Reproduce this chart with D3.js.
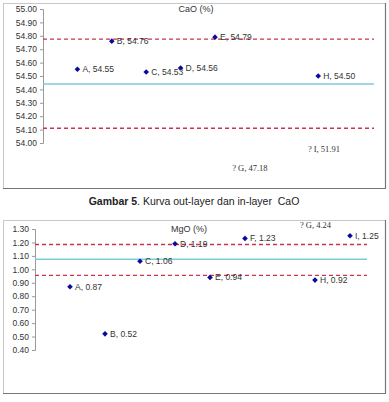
<!DOCTYPE html>
<html lang="en">
<head>
  <meta charset="UTF-8">
  <title>Kurva out-layer dan in-layer CaO / MgO</title>
  <script src="https://d3js.org/d3.v7.min.js"></script>
  <style>
    body { margin: 0; background: #fff; }
    svg { display: block; font-family: "Liberation Sans", Arial, sans-serif; }
    .tick text { font-size: 8.5px; fill: #333; }
    .pt-label { font-size: 8.5px; fill: #333; }
    .odd-label { font-family: "Liberation Serif", serif; font-size: 8.5px; fill: #333; }
    .caption { font-size: 10.5px; fill: #222; }
  </style>
</head>
<body>
<svg width="389" height="402"></svg>
<script>
  // sample ids on the x axis (positions 1..9)
  const samples = ["A", "B", "C", "D", "E", "F", "G", "H", "I"];

  // CaO (%) — F has no point, G and I fall far outside the axis
  const caoValues = [54.55, 54.76, 54.53, 54.56, 54.79, null, 47.18, 54.50, 51.91];
  const caoTicks = [54.0, 54.1, 54.2, 54.3, 54.4, 54.5, 54.6, 54.7, 54.8, 54.9, 55.0];
  const caoMean = 54.44;
  const caoLimits = [54.775, 54.11];
  // where the off-scale labels were dropped (x position, y value)
  const caoOutliers = [
    { id: "G", value: 47.18, xPos: 5.5, yPos: 53.79 },
    { id: "I", value: 51.91, xPos: 7.7, yPos: 53.93 }
  ];

  // MgO (%) — G falls outside the axis
  const mgoValues = [0.87, 0.52, 1.06, 1.19, 0.94, 1.23, 4.24, 0.92, 1.25];
  const mgoTicks = [0.4, 0.5, 0.6, 0.7, 0.8, 0.9, 1.0, 1.1, 1.2, 1.3];
  const mgoMean = 1.075;
  const mgoLimits = [1.185, 0.955];
  const mgoOutliers = [
    { id: "G", value: 4.24, xPos: 7.57, yPos: 1.31 }
  ];

  const svg = d3.select("svg");

  function drawPanel(cfg) {
    const g = svg.append("g");

    // outer frame with the darker right/bottom edge
    g.append("rect")
      .attr("x", cfg.frame[0] + 0.5).attr("y", cfg.frame[1] + 0.5)
      .attr("width", cfg.frame[2] - cfg.frame[0]).attr("height", cfg.frame[3] - cfg.frame[1])
      .attr("fill", "#fff").attr("stroke", "#c8c8c8");
    g.append("path")
      .attr("d", `M${cfg.frame[2] + 0.5},${cfg.frame[1]}V${cfg.frame[3] + 0.5}H${cfg.frame[0]}`)
      .attr("fill", "none").attr("stroke", "#777").attr("stroke-width", 1.2);

    const x = d3.scaleLinear().domain([0, 10]).range(cfg.xRange);
    const y = d3.scaleLinear().domain(cfg.yDomain).range(cfg.yRange);

    const axis = g.append("g")
      .attr("transform", `translate(${cfg.xRange[0]},0)`)
      .call(d3.axisLeft(y).tickValues(cfg.ticks).tickFormat(d3.format(".2f")).tickSize(3).tickPadding(3));
    axis.select(".domain").attr("stroke", "#999");
    axis.selectAll(".tick line").attr("stroke", "#999");

    // title
    g.append("text")
      .attr("x", cfg.titleX).attr("y", y(cfg.yDomain[1]) + 3)
      .attr("text-anchor", "middle")
      .attr("class", "pt-label")
      .style("font-size", "9px")
      .text(cfg.title);

    // control limits and mean
    const lineEnd = cfg.lineEnd;
    cfg.limits.forEach(v => {
      g.append("line")
        .attr("x1", cfg.xRange[0]).attr("x2", lineEnd)
        .attr("y1", y(v)).attr("y2", y(v))
        .attr("stroke", "#c8344f").attr("stroke-width", 1.4)
        .attr("stroke-dasharray", "4,3");
    });
    g.append("line")
      .attr("x1", cfg.xRange[0]).attr("x2", lineEnd)
      .attr("y1", y(cfg.mean)).attr("y2", y(cfg.mean))
      .attr("stroke", "#7ccdd6").attr("stroke-width", 1.5);

    // points inside the axis range
    const pts = cfg.values
      .map((v, i) => ({ id: samples[i], v, i: i + 1 }))
      .filter(d => d.v != null && d.v >= cfg.yDomain[0] && d.v <= cfg.yDomain[1] + 0.05);

    g.selectAll(".pt").data(pts).enter().append("path")
      .attr("class", "pt")
      .attr("d", d3.symbol(d3.symbolDiamond2, 20))
      .attr("transform", d => `translate(${x(d.i)},${y(d.v)})`)
      .attr("fill", "#0a0a9c");

    g.selectAll(".lbl").data(pts).enter().append("text")
      .attr("class", "pt-label")
      .attr("x", d => x(d.i) + 5)
      .attr("y", d => y(d.v) + 3)
      .text(d => `${d.id}, ${d.v.toFixed(2)}`);

    g.selectAll(".odd").data(cfg.outliers).enter().append("text")
      .attr("class", "odd-label")
      .attr("x", d => x(d.xPos))
      .attr("y", d => y(d.yPos))
      .text(d => `? ${d.id}, ${d.value.toFixed(2)}`);

    return g;
  }

  drawPanel({
    frame: [3, 3, 385, 188],
    xRange: [43, 387],
    yDomain: [54, 55],
    yRange: [143, 9],
    ticks: caoTicks,
    values: caoValues,
    mean: caoMean,
    limits: caoLimits,
    outliers: caoOutliers,
    title: "CaO (%)",
    titleX: 196,
    lineEnd: 374
  });

  const caption = svg.append("text")
    .attr("class", "caption")
    .attr("x", 194).attr("y", 205)
    .attr("text-anchor", "middle");
  caption.append("tspan").attr("font-weight", "bold").text("Gambar 5");
  caption.append("tspan").text(". Kurva out-layer dan in-layer \u00a0CaO");

  drawPanel({
    frame: [3, 220, 385, 393],
    xRange: [35, 385],
    yDomain: [0.4, 1.3],
    yRange: [350, 229],
    ticks: mgoTicks,
    values: mgoValues,
    mean: mgoMean,
    limits: mgoLimits,
    outliers: mgoOutliers,
    title: "MgO (%)",
    titleX: 189,
    lineEnd: 367
  });
</script>
</body>
</html>
